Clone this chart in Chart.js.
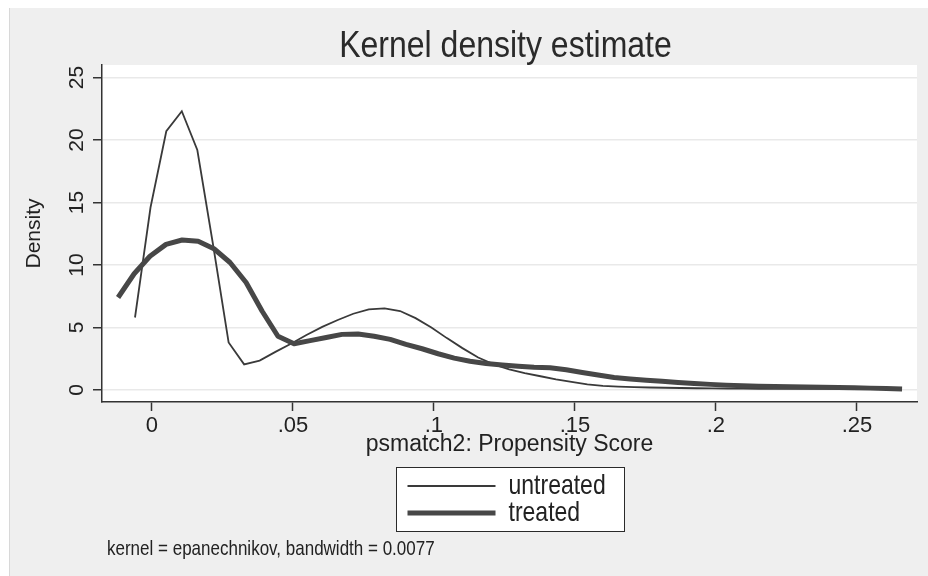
<!DOCTYPE html>
<html>
<head>
<meta charset="utf-8">
<script src="https://cdn.jsdelivr.net/npm/chart.js@4/dist/chart.umd.min.js"></script>
<style>
  html, body { margin: 0; padding: 0; background: #ffffff; }
  #wrap { width: 928px; height: 576px; }
</style>
</head>
<body>
<div id="wrap"><canvas id="kd" width="928" height="576"></canvas></div>
<script>
// Kernel density estimates of the propensity score, evaluated on 50 points each
const untreatedX = [-0.0060, -0.0005, 0.0051, 0.0106, 0.0161, 0.0217, 0.0272, 0.0327, 0.0382, 0.0438,
  0.0493, 0.0548, 0.0604, 0.0659, 0.0714, 0.0769, 0.0825, 0.0880, 0.0935, 0.0991,
  0.1046, 0.1101, 0.1157, 0.1212, 0.1267, 0.1322, 0.1378, 0.1433, 0.1488, 0.1544,
  0.1599, 0.1654, 0.1710, 0.1765, 0.1820, 0.1875, 0.1931, 0.1986, 0.2041, 0.2097,
  0.2152, 0.2207, 0.2262, 0.2318, 0.2373, 0.2428, 0.2484, 0.2539, 0.2594, 0.2650];
const untreatedY = [5.8, 14.6, 20.7, 22.3, 19.2, 11.6, 3.8, 2.05, 2.35, 3.05,
  3.7, 4.4, 5.05, 5.6, 6.1, 6.45, 6.53, 6.32, 5.75, 5.0,
  4.15, 3.35, 2.6, 2.05, 1.65, 1.35, 1.1, 0.85, 0.65, 0.45,
  0.33, 0.27, 0.23, 0.2, 0.18, 0.16, 0.14, 0.13, 0.12, 0.11,
  0.1, 0.1, 0.1, 0.1, 0.09, 0.09, 0.08, 0.08, 0.07, 0.06];

const treatedX = [-0.0120, -0.0063, -0.0007, 0.0050, 0.0107, 0.0164, 0.0220, 0.0277, 0.0334, 0.0391,
  0.0447, 0.0504, 0.0561, 0.0618, 0.0674, 0.0731, 0.0788, 0.0845, 0.0901, 0.0958,
  0.1015, 0.1072, 0.1128, 0.1185, 0.1242, 0.1299, 0.1355, 0.1412, 0.1469, 0.1526,
  0.1582, 0.1639, 0.1696, 0.1753, 0.1809, 0.1866, 0.1923, 0.1980, 0.2036, 0.2093,
  0.2150, 0.2207, 0.2263, 0.2320, 0.2377, 0.2434, 0.2490, 0.2547, 0.2604, 0.2660];
const treatedY = [7.4, 9.3, 10.7, 11.65, 12.0, 11.9, 11.3, 10.2, 8.6, 6.3,
  4.3, 3.7, 3.95, 4.2, 4.45, 4.48, 4.3, 4.05, 3.65, 3.3,
  2.9, 2.55, 2.3, 2.12, 2.0, 1.9, 1.82, 1.78, 1.62, 1.4,
  1.2, 1.0, 0.88, 0.78, 0.7, 0.6, 0.52, 0.45, 0.39, 0.34,
  0.31, 0.28, 0.26, 0.24, 0.22, 0.2, 0.18, 0.15, 0.12, 0.08];

const xTicks = [0, 0.05, 0.1, 0.15, 0.2, 0.25];
const xTickLabels = ['0', '.05', '.1', '.15', '.2', '.25'];
const yTicks = [0, 5, 10, 15, 20, 25];
const yTickLabels = ['0', '5', '10', '15', '20', '25'];

const seriesLabels = ['untreated', 'treated'];
const titleText = 'Kernel density estimate';
const xTitle = 'psmatch2: Propensity Score';
const yTitle = 'Density';
const noteText = 'kernel = epanechnikov, bandwidth = 0.0077';

const FONT = '"Liberation Sans", Arial, Helvetica, sans-serif';
const INK = '#222222';
const AXIS = '#333333';
const TALL = 1.18; // vertical stretch for the free-standing text

Chart.defaults.font.family = FONT;
Chart.defaults.color = INK;

const toPoints = (xs, ys) => xs.map((x, i) => ({ x: x, y: ys[i] }));

function tallText(ctx, text, x, y, align) {
  ctx.save();
  ctx.translate(x, y);
  ctx.scale(1, TALL);
  ctx.textAlign = align;
  ctx.textBaseline = 'middle';
  ctx.fillText(text, 0, 0);
  ctx.restore();
}

// Page background, plot region, title, legend box and kernel note
const decor = {
  id: 'decor',
  beforeDraw(chart) {
    const { ctx, chartArea: a, width, height } = chart;
    ctx.save();
    ctx.fillStyle = '#ffffff';
    ctx.fillRect(0, 0, width, height);
    ctx.fillStyle = '#efefef';
    ctx.fillRect(9, 8, width - 9, height - 8);
    ctx.strokeStyle = '#d8d8d8';
    ctx.lineWidth = 1;
    ctx.beginPath();
    ctx.moveTo(9.5, 8); ctx.lineTo(9.5, height);
    ctx.stroke();
    ctx.fillStyle = '#ffffff';
    ctx.fillRect(a.left, a.top, a.right - a.left, a.bottom - a.top);
    ctx.restore();
  },
  afterDraw(chart) {
    const { ctx, chartArea: a } = chart;
    const cx = (a.left + a.right) / 2;
    ctx.save();

    // title
    ctx.fillStyle = '#2a2a2a';
    ctx.font = '32px ' + FONT;
    tallText(ctx, titleText, cx - 4, 47, 'center');

    // legend
    const boxL = Math.round(cx - 113.5) + 0.5;
    const boxT = 467.5;
    ctx.fillStyle = '#ffffff';
    ctx.fillRect(boxL, boxT, 228, 64);
    ctx.strokeStyle = '#2a2a2a';
    ctx.lineWidth = 1;
    ctx.strokeRect(boxL, boxT, 228, 64);
    chart.data.datasets.forEach((ds, i) => {
      const y = 486 + i * 27;
      ctx.strokeStyle = ds.borderColor;
      ctx.lineWidth = ds.borderWidth;
      ctx.lineCap = 'butt';
      ctx.beginPath();
      ctx.moveTo(boxL + 11, y);
      ctx.lineTo(boxL + 99, y);
      ctx.stroke();
      ctx.fillStyle = INK;
      ctx.font = '23px ' + FONT;
      tallText(ctx, ds.label, boxL + 112, y + 1, 'left');
    });

    // note
    ctx.fillStyle = INK;
    ctx.font = '17px ' + FONT;
    tallText(ctx, noteText, 107, 549, 'left');
    ctx.restore();
  }
};

new Chart(document.getElementById('kd'), {
  type: 'line',
  data: {
    datasets: [
      {
        label: seriesLabels[0],
        data: toPoints(untreatedX, untreatedY),
        borderColor: '#3a3a3a',
        borderWidth: 1.8,
        pointRadius: 0,
        tension: 0,
        fill: false,
        order: 1
      },
      {
        label: seriesLabels[1],
        data: toPoints(treatedX, treatedY),
        borderColor: '#474747',
        borderWidth: 5,
        borderJoinStyle: 'round',
        borderCapStyle: 'butt',
        pointRadius: 0,
        tension: 0,
        fill: false,
        order: 0
      }
    ]
  },
  options: {
    responsive: false,
    animation: false,
    devicePixelRatio: 1,
    layout: { padding: { left: 9, top: 65, right: 11, bottom: 114 } },
    plugins: {
      legend: { display: false },
      title: { display: false },
      tooltip: { enabled: false }
    },
    scales: {
      x: {
        type: 'linear',
        min: -0.0177,
        max: 0.2713,
        afterBuildTicks: (s) => { s.ticks = xTicks.map(v => ({ value: v })); },
        afterFit: (s) => { s.height = 60; },
        ticks: {
          autoSkip: false,
          maxRotation: 0,
          padding: 2,
          color: INK,
          font: { size: 22 },
          callback: (v, i) => xTickLabels[i]
        },
        grid: { drawOnChartArea: false, tickLength: 9, tickColor: AXIS, tickWidth: 1.5 },
        border: { color: AXIS, width: 1.5 },
        title: {
          display: true,
          text: xTitle,
          color: INK,
          font: { size: 23 },
          padding: { top: 0, bottom: 4 }
        }
      },
      y: {
        min: -0.96,
        max: 26,
        afterBuildTicks: (s) => { s.ticks = yTicks.map(v => ({ value: v })); },
        afterFit: (s) => { s.width = 93; },
        ticks: {
          minRotation: 90,
          maxRotation: 90,
          crossAlign: 'center',
          padding: 4,
          color: INK,
          font: { size: 21 },
          callback: (v, i) => yTickLabels[i]
        },
        grid: { color: '#e9e9e9', lineWidth: 1.5, tickLength: 9, tickColor: AXIS, tickWidth: 1.5 },
        border: { color: AXIS, width: 1.5 },
        title: {
          display: true,
          text: yTitle,
          color: INK,
          font: { size: 21 },
          padding: { top: 13, bottom: 0 }
        }
      }
    }
  },
  plugins: [decor]
});
</script>
</body>
</html>
